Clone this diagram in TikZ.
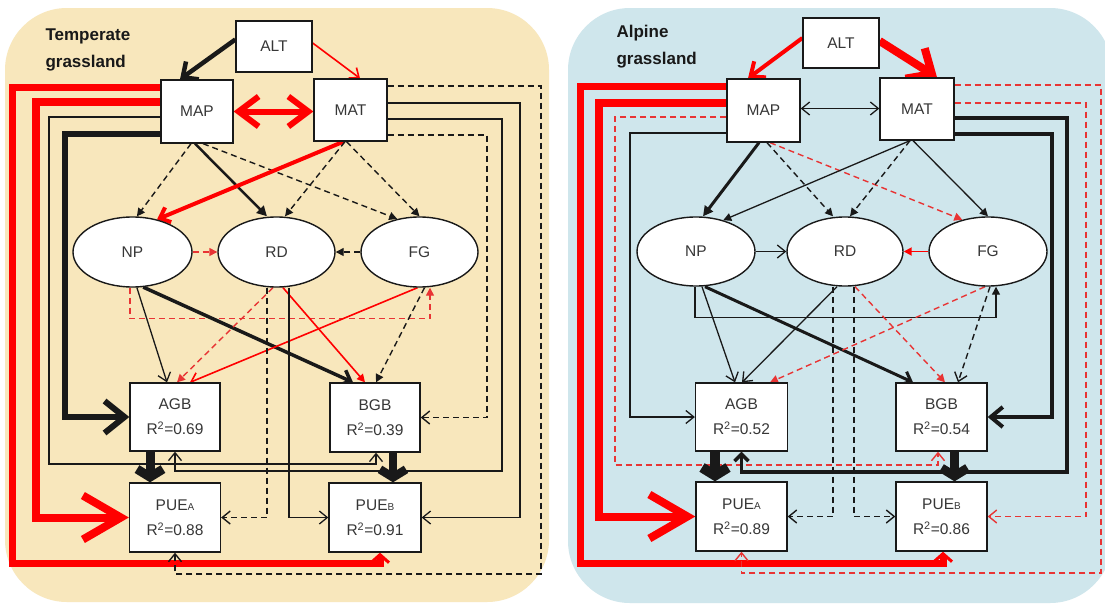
\documentclass[tikz,border=0pt]{standalone}
\usepackage{fontspec}
\setmainfont{Liberation Sans}
\usetikzlibrary{arrows.meta,shapes.geometric}
\definecolor{tanbg}{RGB}{248,231,188}
\definecolor{bluebg}{RGB}{207,230,236}
\definecolor{myred}{RGB}{255,0,0}
\definecolor{dred}{RGB}{232,52,52}
\definecolor{ink}{RGB}{25,25,25}
\definecolor{txt}{RGB}{55,55,55}
\pgfdeclarelayer{bgzero}
\pgfdeclarelayer{conn}
\pgfsetlayers{bgzero,conn,main}
\begin{document}
\begin{tikzpicture}[x=1pt,y=-1pt,
  box/.style={draw=ink, line width=1.3pt, fill=white, inner sep=0pt, text=txt, font=\fontsize{15.5}{25}\selectfont, align=center},
  ell/.style={ellipse, draw=ink, line width=1.4pt, fill=white, inner sep=0pt, text=txt, font=\fontsize{15.5}{18}\selectfont},
  lbl/.style={anchor=west, font=\bfseries\fontsize{17}{27}\selectfont, text=ink, align=left},
  tl/.style={line width=1.3pt, draw=ink},
  dsh/.style={line width=1.4pt, dash pattern=on 6pt off 4pt},
  ob/.style={-{Straight Barb[length=8pt,width=13pt]}},
  ft/.style={-{Triangle[length=8pt,width=8pt]}},
  bigbarb/.style={-{Straight Barb[length=38pt,width=44pt]}},
  chunky/.style={-{Straight Barb[length=8pt,width=26pt]}},
  smallred/.style={-{Straight Barb[length=8pt,width=18pt,line width=3pt]}}
]
\useasboundingbox (0,0) rectangle (1105,605);
\begin{pgfonlayer}{bgzero}
\fill[white] (0,0) rectangle (1105,605);
\fill[tanbg, rounded corners=62pt] (5,8) rectangle (549,602);
\fill[bluebg, rounded corners=62pt] (568,8) rectangle (1112,603);
\end{pgfonlayer}

% ================= Panel 1: Temperate =================
\node[lbl] (tA) at (42,50) {Temperate\\grassland};
\node[box, minimum width=76pt, minimum height=51pt] (aALT) at (274,46.5) {ALT};
\node[box, minimum width=72pt, minimum height=63pt] (aMAP) at (197,111.5) {MAP};
\node[box, minimum width=73pt, minimum height=62pt] (aMAT) at (350.5,110) {MAT};
\node[ell, minimum width=119pt, minimum height=70pt] (aNP) at (132.5,252) {NP};
\node[ell, minimum width=117pt, minimum height=70pt] (aRD) at (276.5,252) {RD};
\node[ell, minimum width=117pt, minimum height=70pt] (aFG) at (419.5,252) {FG};
\node[box, minimum width=90pt, minimum height=68pt] (aAGB) at (175,417) {AGB\\R\textsuperscript{2}=0.69};
\node[box, minimum width=91pt, minimum height=69pt] (aPUEA) at (175,517.5) {PUE{\fontsize{10}{10}\selectfont A}\\R\textsuperscript{2}=0.88};
\node[box, minimum width=90pt, minimum height=69pt] (aBGB) at (375,417.5) {BGB\\R\textsuperscript{2}=0.39};
\node[box, minimum width=92pt, minimum height=69pt] (aPUEB) at (375,517.5) {PUE{\fontsize{10}{10}\selectfont B}\\R\textsuperscript{2}=0.91};

\begin{pgfonlayer}{conn}
% top
\draw[ink, line width=4.5pt, -{Straight Barb[length=12pt,width=22pt]}] ([yshift=7pt]aALT.west) -- ([xshift=-17pt]aMAP.north);
\draw[myred, line width=1.6pt, ob] ([yshift=3.5pt]aALT.east) -- ([xshift=9.5pt]aMAT.north);
\draw[myred, line width=6pt, {Straight Barb[length=20pt,width=30pt]}-{Straight Barb[length=20pt,width=30pt]}] (aMAP.east) -- (aMAP.east -| aMAT.west);
% left side
\draw[myred, line width=7pt, smallred] ([yshift=24.5pt]aMAP.west) -| (12,563) -| ([xshift=5pt]aPUEB.south);
\draw[myred, line width=8pt, bigbarb] ([yshift=9.5pt]aMAP.west) -| (36,517.5) -- (aPUEA.west);
\draw[tl, ob] ([yshift=-5.5pt]aMAP.west) -| (49,464) -| ([xshift=1pt]aBGB.south);
\draw[ink, line width=6pt, -{Straight Barb[length=20pt,width=32pt]}] ([yshift=-22pt]aMAP.west) -| (65,417) -- (aAGB.west);
% right side
\draw[ink, dsh, ob] ([yshift=24pt]aMAT.east) -| (541,574) -| (aPUEA.south);
\draw[tl, ob] ([yshift=7pt]aMAT.east) -| (520,517.5) -- (aPUEB.east);
\draw[tl, ob] ([yshift=-9pt]aMAT.east) -| (502,471) -| (aAGB.south);
\draw[ink, dsh, ob] ([yshift=-25pt]aMAT.east) -| (487,417.5) -- (aBGB.east);
% to latent nodes
\draw[ink, dsh, ft] ([xshift=-6pt]aMAP.south) -- (aNP.83);
\draw[ink, line width=2.5pt, -{Triangle[length=10pt,width=10pt]}] ([xshift=-2pt]aMAP.south) -- ([xshift=-9.5pt]aRD.north);
\draw[ink, dsh, ft] ([xshift=6pt]aMAP.south) -- (aFG.124);
\draw[myred, line width=4pt, -{Straight Barb[length=9pt,width=16pt]}] ([xshift=-7pt]aMAT.south) -- (aNP.53);
\draw[ink, dsh, ft] ([xshift=-5.5pt]aMAT.south) -- ([xshift=8.5pt]aRD.north);
\draw[ink, dsh, ft] ([xshift=-4pt]aMAT.south) -- (aFG.north);
\draw[dred, dsh, ft] (aNP.east) -- (aRD.west);
\draw[ink, dsh, ft] (aFG.west) -- (aRD.east);
\draw[dred, dsh, ft] ([xshift=-2.5pt]aNP.south) -- ++(0,31) -| ([xshift=10.5pt]aFG.south);
% to biomass
\draw[tl, ob] (aNP.277) -- ([xshift=-8pt]aAGB.north);
\draw[ink, line width=3.5pt, -{Straight Barb[length=9pt,width=16pt]}] (aNP.287) -- ([xshift=-22pt]aBGB.north);
\draw[dred, dsh, ft] ([xshift=-3.5pt]aRD.south) -- ([xshift=2pt]aAGB.north);
\draw[myred, line width=1.6pt, ob] ([xshift=-2pt]aFG.south) -- ([xshift=15pt]aAGB.north);
\draw[myred, line width=1.6pt, ft] ([xshift=6.5pt]aRD.south) -- ([xshift=-10pt]aBGB.north);
\draw[ink, dsh, ft] ([xshift=5pt]aFG.south) -- ([xshift=1pt]aBGB.north);
\draw[ink, dsh, ob] ([xshift=-9.5pt]aRD.south) |- (aPUEA.east);
\draw[tl, ob] ([xshift=12.5pt]aRD.south) |- (aPUEB.west);
\draw[ink, line width=9pt, chunky] ([xshift=-25pt]aAGB.south) -- ([xshift=-25pt]aPUEA.north);
\draw[ink, line width=8.5pt, chunky] ([xshift=18pt]aBGB.south) -- ([xshift=18pt]aPUEB.north);
\end{pgfonlayer}

% ================= Panel 2: Alpine =================
\node[lbl] (tB) at (613,47) {Alpine\\grassland};
\node[box, minimum width=76pt, minimum height=50pt] (bALT) at (841,43) {ALT};
\node[box, minimum width=73pt, minimum height=63pt] (bMAP) at (763.5,110.5) {MAP};
\node[box, minimum width=74pt, minimum height=62pt] (bMAT) at (917,109) {MAT};
\node[ell, minimum width=118pt, minimum height=69pt] (bNP) at (696,251.5) {NP};
\node[ell, minimum width=116pt, minimum height=69pt] (bRD) at (845,251.5) {RD};
\node[ell, minimum width=118pt, minimum height=69pt] (bFG) at (988,251.5) {FG};
\node[box, minimum width=92pt, minimum height=68pt] (bAGB) at (741.5,417) {AGB\\R\textsuperscript{2}=0.52};
\node[box, minimum width=91pt, minimum height=69pt] (bPUEA) at (741.5,516.5) {PUE{\fontsize{10}{10}\selectfont A}\\R\textsuperscript{2}=0.89};
\node[box, minimum width=91pt, minimum height=68pt] (bBGB) at (941.5,417) {BGB\\R\textsuperscript{2}=0.54};
\node[box, minimum width=91pt, minimum height=69pt] (bPUEB) at (941.5,516.5) {PUE{\fontsize{10}{10}\selectfont B}\\R\textsuperscript{2}=0.86};

\begin{pgfonlayer}{conn}
% top
\draw[myred, line width=4pt, -{Straight Barb[length=12pt,width=20pt]}] ([yshift=5pt]bALT.west) -- ([xshift=-15.5pt]bMAP.north);
\draw[myred, line width=8pt, -{Straight Barb[length=20pt,width=36pt]}] ([yshift=2pt]bALT.east) -- ([xshift=20pt]bMAT.north);
\draw[tl, {Straight Barb[length=8pt,width=13pt]}-{Straight Barb[length=8pt,width=13pt]}] ([yshift=2pt]bMAP.east) -- ([yshift=2pt]bMAP.east -| bMAT.west);
% left side
\draw[myred, line width=7pt, smallred] ([yshift=24.5pt]bMAP.west) -| (580,563) -| ([xshift=1.5pt]bPUEB.south);
\draw[myred, line width=8pt, bigbarb] ([yshift=7.5pt]bMAP.west) -| (599,516.5) -- (bPUEA.west);
\draw[dred, dsh, ob] ([yshift=-6.5pt]bMAP.west) -| (615,465) -| ([xshift=-3.5pt]bBGB.south);
\draw[tl, ob] ([yshift=-22.5pt]bMAP.west) -| (630,417) -- (bAGB.west);
% right side
\draw[dred, dsh, ob] ([yshift=24pt]bMAT.east) -| (1101,573) -| (bPUEA.south);
\draw[dred, dsh, ob] ([yshift=6pt]bMAT.east) -| (1086,516.5) -- (bPUEB.east);
\draw[ink, line width=3.5pt, -{Straight Barb[length=7pt,width=14pt]}] ([yshift=-9pt]bMAT.east) -| (1067,472) -| (bAGB.south);
\draw[ink, line width=4pt, -{Straight Barb[length=12pt,width=20pt]}] ([yshift=-25pt]bMAT.east) -| (1052,417) -- (bBGB.east);
% to latent nodes
\draw[ink, line width=3pt, -{Triangle[length=10pt,width=10pt]}] ([xshift=-4.5pt]bMAP.south) -- ([xshift=7pt]bNP.north);
\draw[ink, dsh, ft] ([xshift=3.5pt]bMAP.south) -- ([xshift=-12pt]bRD.north);
\draw[dred, dsh, ft] ([xshift=6.5pt]bMAP.south) -- (bFG.129);
\draw[tl, ft] ([xshift=-7pt]bMAT.south) -- (bNP.49);
\draw[ink, dsh, ft] ([xshift=-7pt]bMAT.south) -- ([xshift=5pt]bRD.north);
\draw[tl, ft] ([xshift=-4pt]bMAT.south) -- (bFG.north);
\draw[tl, ob] (bNP.east) -- (bRD.west);
\draw[myred, line width=1.8pt, ft] (bFG.west) -- (bRD.east);
\draw[tl, ft] ([xshift=-1pt]bNP.south) -- ++(0,31) -| ([xshift=8pt]bFG.south);
% to biomass
\draw[tl, ob] ([xshift=6pt]bNP.south) -- ([xshift=-6.5pt]bAGB.north);
\draw[tl, ob] ([xshift=-8pt]bRD.south) -- ([xshift=0.5pt]bAGB.north);
\draw[ink, line width=3pt, -{Straight Barb[length=8pt,width=14pt]}] ([xshift=9pt]bNP.south) -- ([xshift=-28.5pt]bBGB.north);
\draw[dred, dsh, ft] ([xshift=-3pt]bFG.south) -- ([xshift=28.5pt]bAGB.north);
\draw[dred, dsh, ft] ([xshift=10pt]bRD.south) -- ([xshift=3.5pt]bBGB.north);
\draw[ink, dsh, ob] ([xshift=2pt]bFG.south) -- ([xshift=16.5pt]bBGB.north);
\draw[ink, dsh, ob] ([xshift=-12pt]bRD.south) |- (bPUEA.east);
\draw[ink, dsh, ob] ([xshift=9pt]bRD.south) |- (bPUEB.west);
\draw[ink, line width=10pt, chunky] ([xshift=-26.5pt]bAGB.south) -- ([xshift=-26.5pt]bPUEA.north);
\draw[ink, line width=9pt, chunky] ([xshift=13pt]bBGB.south) -- ([xshift=13pt]bPUEB.north);
\end{pgfonlayer}
\end{tikzpicture}
\end{document}
